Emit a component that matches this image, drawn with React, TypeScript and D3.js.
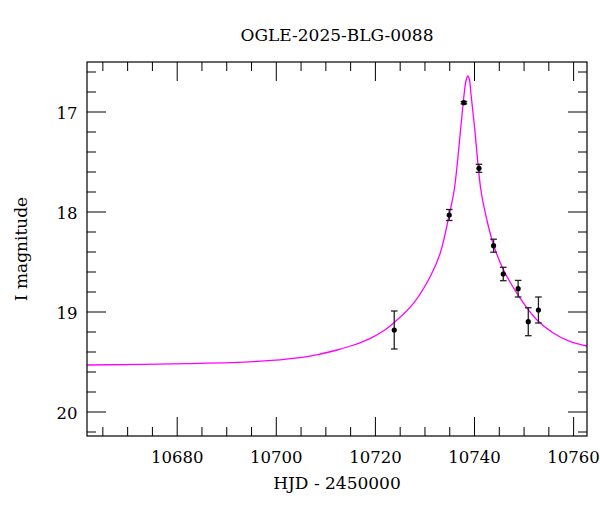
import React from "react";
import * as d3 from "d3";

const title = "OGLE-2025-BLG-0088";
const xLabel = "HJD - 2450000";
const yLabel = "I magnitude";

// Observations
const obsHJD = [10723.8, 10734.9, 10737.86, 10740.9, 10743.85, 10745.8, 10748.8, 10750.85, 10752.9];
const obsMag = [19.18, 18.03, 16.907, 17.563, 18.337, 18.62, 18.767, 19.097, 18.98];
const obsErr = [0.19, 0.055, 0.012, 0.04, 0.065, 0.067, 0.083, 0.14, 0.13];

// Model curve samples
const modelHJD = [10661.82, 10681.96, 10695.43, 10704.79, 10708.89, 10712.26, 10715.64, 10718.99, 10721.9, 10723.98, 10727.68, 10731.05, 10733.07, 10734.89, 10735.9, 10737.25, 10737.92, 10738.32, 10738.67, 10738.99, 10739.27, 10740.0, 10741.29, 10742.5, 10743.84, 10745.86, 10749.23, 10752.61, 10755.96, 10759.33, 10762.71];
const modelMag = [19.53, 19.517, 19.497, 19.457, 19.42, 19.38, 19.33, 19.263, 19.18, 19.097, 18.913, 18.647, 18.413, 18.03, 17.78, 17.147, 16.813, 16.68, 16.64, 16.68, 16.813, 17.147, 17.78, 18.08, 18.33, 18.58, 18.863, 19.08, 19.213, 19.297, 19.34];

const xMajorTicks = [10680, 10700, 10720, 10740, 10760];
const yMajorTicks = [17, 18, 19, 20];

const W = 600, H = 512;
const L = 87, R = 587, T = 62, B = 436;
const FONT = "'DejaVu Serif', 'Liberation Serif', serif";

export default function App() {
  const x = d3.scaleLinear().domain([10661.8, 10762.7]).range([L, R]);
  const y = d3.scaleLinear().domain([16.5, 20.24]).range([T, B]);

  const xMinor = d3.range(10665, 10763, 5).filter((v) => !xMajorTicks.includes(v));
  const yMinor = d3
    .range(166, 203, 2)
    .map((v) => v / 10)
    .filter((v) => !yMajorTicks.some((m) => Math.abs(m - v) < 1e-6));

  const line = d3
    .line<number>()
    .x((_, i) => x(modelHJD[i]))
    .y((d) => y(d))
    .curve(d3.curveCatmullRom.alpha(0.5));

  const MAJ = 19, MIN = 9;

  return (
    <svg width={W} height={H} style={{ position: "absolute", left: 0, top: 0, background: "#fff" }}>
      <rect x={0} y={0} width={W} height={H} fill="#fff" />
      <defs>
        <clipPath id="plot">
          <rect x={L} y={T} width={R - L} height={B - T} />
        </clipPath>
      </defs>
      {/* model */}
      <path d={line(modelMag) || ""} fill="none" stroke="#ff00ff" strokeWidth={1.3} clipPath="url(#plot)" />
      {/* data */}
      {obsHJD.map((t, i) => {
        const cx = x(t);
        const y1 = y(obsMag[i] - obsErr[i]);
        const y2 = y(obsMag[i] + obsErr[i]);
        return (
          <g key={i} stroke="#222" strokeWidth={1.3}>
            <line x1={cx} x2={cx} y1={y1} y2={y2} />
            <line x1={cx - 3.3} x2={cx + 3.3} y1={y1} y2={y1} />
            <line x1={cx - 3.3} x2={cx + 3.3} y1={y2} y2={y2} />
            <circle cx={cx} cy={y(obsMag[i])} r={2.6} fill="#000" stroke="none" />
          </g>
        );
      })}
      {/* ticks */}
      <g stroke="#000" strokeWidth={1}>
        {xMajorTicks.map((v) => (
          <g key={"xM" + v}>
            <line x1={x(v)} x2={x(v)} y1={B} y2={B - MAJ} />
            <line x1={x(v)} x2={x(v)} y1={T} y2={T + MAJ} />
          </g>
        ))}
        {xMinor.map((v) => (
          <g key={"xm" + v}>
            <line x1={x(v)} x2={x(v)} y1={B} y2={B - MIN} />
            <line x1={x(v)} x2={x(v)} y1={T} y2={T + MIN} />
          </g>
        ))}
        {yMajorTicks.map((v) => (
          <g key={"yM" + v}>
            <line x1={L} x2={L + MAJ} y1={y(v)} y2={y(v)} />
            <line x1={R} x2={R - MAJ} y1={y(v)} y2={y(v)} />
          </g>
        ))}
        {yMinor.map((v) => (
          <g key={"ym" + v}>
            <line x1={L} x2={L + MIN} y1={y(v)} y2={y(v)} />
            <line x1={R} x2={R - MIN} y1={y(v)} y2={y(v)} />
          </g>
        ))}
      </g>
      <rect x={L} y={T} width={R - L} height={B - T} fill="none" stroke="#000" strokeWidth={1.2} />
      {/* labels */}
      <g fontFamily={FONT} fontSize={16.5} fill="#000">
        {xMajorTicks.map((v) => (
          <text key={"xl" + v} x={x(v)} y={463} textAnchor="middle">
            {v}
          </text>
        ))}
        {yMajorTicks.map((v) => (
          <text key={"yl" + v} x={77.5} y={y(v) + 6.5} textAnchor="end">
            {v}
          </text>
        ))}
      </g>
      <text x={(L + R) / 2} y={41} textAnchor="middle" fontFamily={FONT} fontSize={17}>
        {title}
      </text>
      <text x={(L + R) / 2} y={489} textAnchor="middle" fontFamily={FONT} fontSize={17}>
        {xLabel}
      </text>
      <text transform={`translate(27, ${(T + B) / 2}) rotate(-90)`} textAnchor="middle" fontFamily={FONT} fontSize={17}>
        {yLabel}
      </text>
    </svg>
  );
}
